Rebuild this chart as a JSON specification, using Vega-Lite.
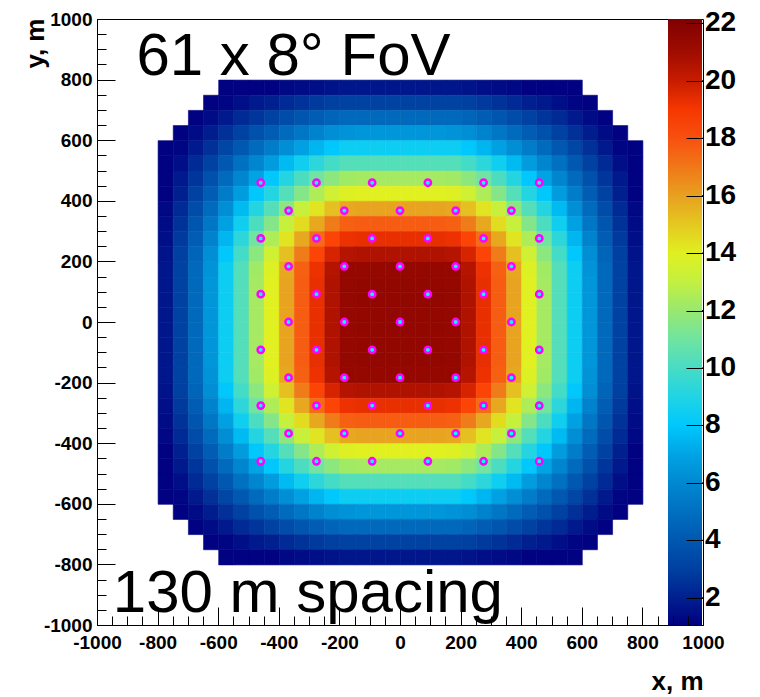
{
"$schema": "https://vega.github.io/schema/vega-lite/v6.json",
"width": 606,
"height": 606,
"autosize": {"type": "none"},
"padding": {"left": 97, "top": 19, "right": 57, "bottom": 72},
"background": "white",
"config": {"view": {"stroke": "black", "strokeWidth": 1}, "font": "Liberation Sans"},
"datasets": {
"cells": [
{"x":-575,"y":775,"v":1.1},{"x":-525,"y":775,"v":1.1},{"x":-475,"y":775,"v":1.1},{"x":-425,"y":775,"v":1.1},{"x":-375,"y":775,"v":1.3},{"x":-325,"y":775,"v":1.4},{"x":-275,"y":775,"v":1.5},{"x":-225,"y":775,"v":1.6},{"x":-175,"y":775,"v":1.7},{"x":-125,"y":775,"v":1.7},{"x":-75,"y":775,"v":1.7},{"x":-25,"y":775,"v":1.7},{"x":25,"y":775,"v":1.7},{"x":75,"y":775,"v":1.7},{"x":125,"y":775,"v":1.7},{"x":175,"y":775,"v":1.7},{"x":225,"y":775,"v":1.6},{"x":275,"y":775,"v":1.5},{"x":325,"y":775,"v":1.4},{"x":375,"y":775,"v":1.3},{"x":425,"y":775,"v":1.1},{"x":475,"y":775,"v":1.1},{"x":525,"y":775,"v":1.1},{"x":575,"y":775,"v":1.1},
{"x":-625,"y":725,"v":1.1},{"x":-575,"y":725,"v":1.2},{"x":-525,"y":725,"v":1.5},{"x":-475,"y":725,"v":1.8},{"x":-425,"y":725,"v":2.0},{"x":-375,"y":725,"v":2.3},{"x":-325,"y":725,"v":2.6},{"x":-275,"y":725,"v":2.8},{"x":-225,"y":725,"v":3.0},{"x":-175,"y":725,"v":3.1},{"x":-125,"y":725,"v":3.1},{"x":-75,"y":725,"v":3.1},{"x":-25,"y":725,"v":3.1},{"x":25,"y":725,"v":3.1},{"x":75,"y":725,"v":3.1},{"x":125,"y":725,"v":3.1},{"x":175,"y":725,"v":3.1},{"x":225,"y":725,"v":3.0},{"x":275,"y":725,"v":2.8},{"x":325,"y":725,"v":2.6},{"x":375,"y":725,"v":2.3},{"x":425,"y":725,"v":2.0},{"x":475,"y":725,"v":1.8},{"x":525,"y":725,"v":1.5},{"x":575,"y":725,"v":1.2},{"x":625,"y":725,"v":1.1},
{"x":-675,"y":675,"v":1.1},{"x":-625,"y":675,"v":1.4},{"x":-575,"y":675,"v":1.8},{"x":-525,"y":675,"v":2.3},{"x":-475,"y":675,"v":2.7},{"x":-425,"y":675,"v":3.1},{"x":-375,"y":675,"v":3.5},{"x":-325,"y":675,"v":3.9},{"x":-275,"y":675,"v":4.2},{"x":-225,"y":675,"v":4.5},{"x":-175,"y":675,"v":4.7},{"x":-125,"y":675,"v":4.7},{"x":-75,"y":675,"v":4.7},{"x":-25,"y":675,"v":4.7},{"x":25,"y":675,"v":4.7},{"x":75,"y":675,"v":4.7},{"x":125,"y":675,"v":4.7},{"x":175,"y":675,"v":4.7},{"x":225,"y":675,"v":4.5},{"x":275,"y":675,"v":4.2},{"x":325,"y":675,"v":3.9},{"x":375,"y":675,"v":3.5},{"x":425,"y":675,"v":3.1},{"x":475,"y":675,"v":2.7},{"x":525,"y":675,"v":2.3},{"x":575,"y":675,"v":1.8},{"x":625,"y":675,"v":1.4},{"x":675,"y":675,"v":1.1},
{"x":-725,"y":625,"v":1.1},{"x":-675,"y":625,"v":1.4},{"x":-625,"y":625,"v":1.9},{"x":-575,"y":625,"v":2.5},{"x":-525,"y":625,"v":3.1},{"x":-475,"y":625,"v":3.7},{"x":-425,"y":625,"v":4.2},{"x":-375,"y":625,"v":4.8},{"x":-325,"y":625,"v":5.3},{"x":-275,"y":625,"v":5.8},{"x":-225,"y":625,"v":6.2},{"x":-175,"y":625,"v":6.4},{"x":-125,"y":625,"v":6.5},{"x":-75,"y":625,"v":6.5},{"x":-25,"y":625,"v":6.5},{"x":25,"y":625,"v":6.5},{"x":75,"y":625,"v":6.5},{"x":125,"y":625,"v":6.5},{"x":175,"y":625,"v":6.4},{"x":225,"y":625,"v":6.2},{"x":275,"y":625,"v":5.8},{"x":325,"y":625,"v":5.3},{"x":375,"y":625,"v":4.8},{"x":425,"y":625,"v":4.2},{"x":475,"y":625,"v":3.7},{"x":525,"y":625,"v":3.1},{"x":575,"y":625,"v":2.5},{"x":625,"y":625,"v":1.9},{"x":675,"y":625,"v":1.4},{"x":725,"y":625,"v":1.1},
{"x":-775,"y":575,"v":1.1},{"x":-725,"y":575,"v":1.2},{"x":-675,"y":575,"v":1.8},{"x":-625,"y":575,"v":2.5},{"x":-575,"y":575,"v":3.3},{"x":-525,"y":575,"v":4.0},{"x":-475,"y":575,"v":4.8},{"x":-425,"y":575,"v":5.5},{"x":-375,"y":575,"v":6.2},{"x":-325,"y":575,"v":6.9},{"x":-275,"y":575,"v":7.5},{"x":-225,"y":575,"v":8.0},{"x":-175,"y":575,"v":8.4},{"x":-125,"y":575,"v":8.4},{"x":-75,"y":575,"v":8.4},{"x":-25,"y":575,"v":8.4},{"x":25,"y":575,"v":8.4},{"x":75,"y":575,"v":8.4},{"x":125,"y":575,"v":8.4},{"x":175,"y":575,"v":8.4},{"x":225,"y":575,"v":8.0},{"x":275,"y":575,"v":7.5},{"x":325,"y":575,"v":6.9},{"x":375,"y":575,"v":6.2},{"x":425,"y":575,"v":5.5},{"x":475,"y":575,"v":4.8},{"x":525,"y":575,"v":4.0},{"x":575,"y":575,"v":3.3},{"x":625,"y":575,"v":2.5},{"x":675,"y":575,"v":1.8},{"x":725,"y":575,"v":1.2},{"x":775,"y":575,"v":1.1},
{"x":-775,"y":525,"v":1.1},{"x":-725,"y":525,"v":1.5},{"x":-675,"y":525,"v":2.3},{"x":-625,"y":525,"v":3.1},{"x":-575,"y":525,"v":4.0},{"x":-525,"y":525,"v":5.0},{"x":-475,"y":525,"v":5.9},{"x":-425,"y":525,"v":6.7},{"x":-375,"y":525,"v":7.6},{"x":-325,"y":525,"v":8.5},{"x":-275,"y":525,"v":9.3},{"x":-225,"y":525,"v":9.9},{"x":-175,"y":525,"v":10.3},{"x":-125,"y":525,"v":10.3},{"x":-75,"y":525,"v":10.3},{"x":-25,"y":525,"v":10.3},{"x":25,"y":525,"v":10.3},{"x":75,"y":525,"v":10.3},{"x":125,"y":525,"v":10.3},{"x":175,"y":525,"v":10.3},{"x":225,"y":525,"v":9.9},{"x":275,"y":525,"v":9.3},{"x":325,"y":525,"v":8.5},{"x":375,"y":525,"v":7.6},{"x":425,"y":525,"v":6.7},{"x":475,"y":525,"v":5.9},{"x":525,"y":525,"v":5.0},{"x":575,"y":525,"v":4.0},{"x":625,"y":525,"v":3.1},{"x":675,"y":525,"v":2.3},{"x":725,"y":525,"v":1.5},{"x":775,"y":525,"v":1.1},
{"x":-775,"y":475,"v":1.1},{"x":-725,"y":475,"v":1.8},{"x":-675,"y":475,"v":2.7},{"x":-625,"y":475,"v":3.7},{"x":-575,"y":475,"v":4.8},{"x":-525,"y":475,"v":5.9},{"x":-475,"y":475,"v":7.0},{"x":-425,"y":475,"v":8.0},{"x":-375,"y":475,"v":9.1},{"x":-325,"y":475,"v":10.1},{"x":-275,"y":475,"v":11.0},{"x":-225,"y":475,"v":11.7},{"x":-175,"y":475,"v":12.2},{"x":-125,"y":475,"v":12.3},{"x":-75,"y":475,"v":12.3},{"x":-25,"y":475,"v":12.3},{"x":25,"y":475,"v":12.3},{"x":75,"y":475,"v":12.3},{"x":125,"y":475,"v":12.3},{"x":175,"y":475,"v":12.2},{"x":225,"y":475,"v":11.7},{"x":275,"y":475,"v":11.0},{"x":325,"y":475,"v":10.1},{"x":375,"y":475,"v":9.1},{"x":425,"y":475,"v":8.0},{"x":475,"y":475,"v":7.0},{"x":525,"y":475,"v":5.9},{"x":575,"y":475,"v":4.8},{"x":625,"y":475,"v":3.7},{"x":675,"y":475,"v":2.7},{"x":725,"y":475,"v":1.8},{"x":775,"y":475,"v":1.1},
{"x":-775,"y":425,"v":1.1},{"x":-725,"y":425,"v":2.0},{"x":-675,"y":425,"v":3.1},{"x":-625,"y":425,"v":4.2},{"x":-575,"y":425,"v":5.5},{"x":-525,"y":425,"v":6.7},{"x":-475,"y":425,"v":8.0},{"x":-425,"y":425,"v":9.1},{"x":-375,"y":425,"v":10.3},{"x":-325,"y":425,"v":11.5},{"x":-275,"y":425,"v":12.5},{"x":-225,"y":425,"v":13.4},{"x":-175,"y":425,"v":13.9},{"x":-125,"y":425,"v":14.0},{"x":-75,"y":425,"v":14.0},{"x":-25,"y":425,"v":14.0},{"x":25,"y":425,"v":14.0},{"x":75,"y":425,"v":14.0},{"x":125,"y":425,"v":14.0},{"x":175,"y":425,"v":13.9},{"x":225,"y":425,"v":13.4},{"x":275,"y":425,"v":12.5},{"x":325,"y":425,"v":11.5},{"x":375,"y":425,"v":10.3},{"x":425,"y":425,"v":9.1},{"x":475,"y":425,"v":8.0},{"x":525,"y":425,"v":6.7},{"x":575,"y":425,"v":5.5},{"x":625,"y":425,"v":4.2},{"x":675,"y":425,"v":3.1},{"x":725,"y":425,"v":2.0},{"x":775,"y":425,"v":1.1},
{"x":-775,"y":375,"v":1.3},{"x":-725,"y":375,"v":2.3},{"x":-675,"y":375,"v":3.5},{"x":-625,"y":375,"v":4.8},{"x":-575,"y":375,"v":6.2},{"x":-525,"y":375,"v":7.6},{"x":-475,"y":375,"v":9.1},{"x":-425,"y":375,"v":10.3},{"x":-375,"y":375,"v":11.7},{"x":-325,"y":375,"v":13.1},{"x":-275,"y":375,"v":14.3},{"x":-225,"y":375,"v":15.2},{"x":-175,"y":375,"v":15.8},{"x":-125,"y":375,"v":15.9},{"x":-75,"y":375,"v":15.9},{"x":-25,"y":375,"v":15.9},{"x":25,"y":375,"v":15.9},{"x":75,"y":375,"v":15.9},{"x":125,"y":375,"v":15.9},{"x":175,"y":375,"v":15.8},{"x":225,"y":375,"v":15.2},{"x":275,"y":375,"v":14.3},{"x":325,"y":375,"v":13.1},{"x":375,"y":375,"v":11.7},{"x":425,"y":375,"v":10.3},{"x":475,"y":375,"v":9.1},{"x":525,"y":375,"v":7.6},{"x":575,"y":375,"v":6.2},{"x":625,"y":375,"v":4.8},{"x":675,"y":375,"v":3.5},{"x":725,"y":375,"v":2.3},{"x":775,"y":375,"v":1.3},
{"x":-775,"y":325,"v":1.4},{"x":-725,"y":325,"v":2.6},{"x":-675,"y":325,"v":3.9},{"x":-625,"y":325,"v":5.3},{"x":-575,"y":325,"v":6.9},{"x":-525,"y":325,"v":8.5},{"x":-475,"y":325,"v":10.1},{"x":-425,"y":325,"v":11.5},{"x":-375,"y":325,"v":13.1},{"x":-325,"y":325,"v":14.5},{"x":-275,"y":325,"v":15.8},{"x":-225,"y":325,"v":16.9},{"x":-175,"y":325,"v":17.6},{"x":-125,"y":325,"v":17.7},{"x":-75,"y":325,"v":17.7},{"x":-25,"y":325,"v":17.7},{"x":25,"y":325,"v":17.7},{"x":75,"y":325,"v":17.7},{"x":125,"y":325,"v":17.7},{"x":175,"y":325,"v":17.6},{"x":225,"y":325,"v":16.9},{"x":275,"y":325,"v":15.8},{"x":325,"y":325,"v":14.5},{"x":375,"y":325,"v":13.1},{"x":425,"y":325,"v":11.5},{"x":475,"y":325,"v":10.1},{"x":525,"y":325,"v":8.5},{"x":575,"y":325,"v":6.9},{"x":625,"y":325,"v":5.3},{"x":675,"y":325,"v":3.9},{"x":725,"y":325,"v":2.6},{"x":775,"y":325,"v":1.4},
{"x":-775,"y":275,"v":1.5},{"x":-725,"y":275,"v":2.8},{"x":-675,"y":275,"v":4.2},{"x":-625,"y":275,"v":5.8},{"x":-575,"y":275,"v":7.5},{"x":-525,"y":275,"v":9.3},{"x":-475,"y":275,"v":11.0},{"x":-425,"y":275,"v":12.5},{"x":-375,"y":275,"v":14.3},{"x":-325,"y":275,"v":15.8},{"x":-275,"y":275,"v":17.3},{"x":-225,"y":275,"v":18.5},{"x":-175,"y":275,"v":19.2},{"x":-125,"y":275,"v":19.3},{"x":-75,"y":275,"v":19.3},{"x":-25,"y":275,"v":19.3},{"x":25,"y":275,"v":19.3},{"x":75,"y":275,"v":19.3},{"x":125,"y":275,"v":19.3},{"x":175,"y":275,"v":19.2},{"x":225,"y":275,"v":18.5},{"x":275,"y":275,"v":17.3},{"x":325,"y":275,"v":15.8},{"x":375,"y":275,"v":14.3},{"x":425,"y":275,"v":12.5},{"x":475,"y":275,"v":11.0},{"x":525,"y":275,"v":9.3},{"x":575,"y":275,"v":7.5},{"x":625,"y":275,"v":5.8},{"x":675,"y":275,"v":4.2},{"x":725,"y":275,"v":2.8},{"x":775,"y":275,"v":1.5},
{"x":-775,"y":225,"v":1.6},{"x":-725,"y":225,"v":3.0},{"x":-675,"y":225,"v":4.5},{"x":-625,"y":225,"v":6.2},{"x":-575,"y":225,"v":8.0},{"x":-525,"y":225,"v":9.9},{"x":-475,"y":225,"v":11.7},{"x":-425,"y":225,"v":13.4},{"x":-375,"y":225,"v":15.2},{"x":-325,"y":225,"v":16.9},{"x":-275,"y":225,"v":18.5},{"x":-225,"y":225,"v":19.7},{"x":-175,"y":225,"v":20.5},{"x":-125,"y":225,"v":20.6},{"x":-75,"y":225,"v":20.6},{"x":-25,"y":225,"v":20.6},{"x":25,"y":225,"v":20.6},{"x":75,"y":225,"v":20.6},{"x":125,"y":225,"v":20.6},{"x":175,"y":225,"v":20.5},{"x":225,"y":225,"v":19.7},{"x":275,"y":225,"v":18.5},{"x":325,"y":225,"v":16.9},{"x":375,"y":225,"v":15.2},{"x":425,"y":225,"v":13.4},{"x":475,"y":225,"v":11.7},{"x":525,"y":225,"v":9.9},{"x":575,"y":225,"v":8.0},{"x":625,"y":225,"v":6.2},{"x":675,"y":225,"v":4.5},{"x":725,"y":225,"v":3.0},{"x":775,"y":225,"v":1.6},
{"x":-775,"y":175,"v":1.7},{"x":-725,"y":175,"v":3.1},{"x":-675,"y":175,"v":4.7},{"x":-625,"y":175,"v":6.4},{"x":-575,"y":175,"v":8.4},{"x":-525,"y":175,"v":10.3},{"x":-475,"y":175,"v":12.2},{"x":-425,"y":175,"v":13.9},{"x":-375,"y":175,"v":15.8},{"x":-325,"y":175,"v":17.6},{"x":-275,"y":175,"v":19.2},{"x":-225,"y":175,"v":20.5},{"x":-175,"y":175,"v":21.4},{"x":-125,"y":175,"v":21.4},{"x":-75,"y":175,"v":21.4},{"x":-25,"y":175,"v":21.4},{"x":25,"y":175,"v":21.4},{"x":75,"y":175,"v":21.4},{"x":125,"y":175,"v":21.4},{"x":175,"y":175,"v":21.4},{"x":225,"y":175,"v":20.5},{"x":275,"y":175,"v":19.2},{"x":325,"y":175,"v":17.6},{"x":375,"y":175,"v":15.8},{"x":425,"y":175,"v":13.9},{"x":475,"y":175,"v":12.2},{"x":525,"y":175,"v":10.3},{"x":575,"y":175,"v":8.4},{"x":625,"y":175,"v":6.4},{"x":675,"y":175,"v":4.7},{"x":725,"y":175,"v":3.1},{"x":775,"y":175,"v":1.7},
{"x":-775,"y":125,"v":1.7},{"x":-725,"y":125,"v":3.1},{"x":-675,"y":125,"v":4.7},{"x":-625,"y":125,"v":6.5},{"x":-575,"y":125,"v":8.4},{"x":-525,"y":125,"v":10.3},{"x":-475,"y":125,"v":12.3},{"x":-425,"y":125,"v":14.0},{"x":-375,"y":125,"v":15.9},{"x":-325,"y":125,"v":17.7},{"x":-275,"y":125,"v":19.3},{"x":-225,"y":125,"v":20.6},{"x":-175,"y":125,"v":21.4},{"x":-125,"y":125,"v":21.5},{"x":-75,"y":125,"v":21.5},{"x":-25,"y":125,"v":21.5},{"x":25,"y":125,"v":21.5},{"x":75,"y":125,"v":21.5},{"x":125,"y":125,"v":21.5},{"x":175,"y":125,"v":21.4},{"x":225,"y":125,"v":20.6},{"x":275,"y":125,"v":19.3},{"x":325,"y":125,"v":17.7},{"x":375,"y":125,"v":15.9},{"x":425,"y":125,"v":14.0},{"x":475,"y":125,"v":12.3},{"x":525,"y":125,"v":10.3},{"x":575,"y":125,"v":8.4},{"x":625,"y":125,"v":6.5},{"x":675,"y":125,"v":4.7},{"x":725,"y":125,"v":3.1},{"x":775,"y":125,"v":1.7},
{"x":-775,"y":75,"v":1.7},{"x":-725,"y":75,"v":3.1},{"x":-675,"y":75,"v":4.7},{"x":-625,"y":75,"v":6.5},{"x":-575,"y":75,"v":8.4},{"x":-525,"y":75,"v":10.3},{"x":-475,"y":75,"v":12.3},{"x":-425,"y":75,"v":14.0},{"x":-375,"y":75,"v":15.9},{"x":-325,"y":75,"v":17.7},{"x":-275,"y":75,"v":19.3},{"x":-225,"y":75,"v":20.6},{"x":-175,"y":75,"v":21.4},{"x":-125,"y":75,"v":21.5},{"x":-75,"y":75,"v":21.5},{"x":-25,"y":75,"v":21.5},{"x":25,"y":75,"v":21.5},{"x":75,"y":75,"v":21.5},{"x":125,"y":75,"v":21.5},{"x":175,"y":75,"v":21.4},{"x":225,"y":75,"v":20.6},{"x":275,"y":75,"v":19.3},{"x":325,"y":75,"v":17.7},{"x":375,"y":75,"v":15.9},{"x":425,"y":75,"v":14.0},{"x":475,"y":75,"v":12.3},{"x":525,"y":75,"v":10.3},{"x":575,"y":75,"v":8.4},{"x":625,"y":75,"v":6.5},{"x":675,"y":75,"v":4.7},{"x":725,"y":75,"v":3.1},{"x":775,"y":75,"v":1.7},
{"x":-775,"y":25,"v":1.7},{"x":-725,"y":25,"v":3.1},{"x":-675,"y":25,"v":4.7},{"x":-625,"y":25,"v":6.5},{"x":-575,"y":25,"v":8.4},{"x":-525,"y":25,"v":10.3},{"x":-475,"y":25,"v":12.3},{"x":-425,"y":25,"v":14.0},{"x":-375,"y":25,"v":15.9},{"x":-325,"y":25,"v":17.7},{"x":-275,"y":25,"v":19.3},{"x":-225,"y":25,"v":20.6},{"x":-175,"y":25,"v":21.4},{"x":-125,"y":25,"v":21.5},{"x":-75,"y":25,"v":21.5},{"x":-25,"y":25,"v":21.5},{"x":25,"y":25,"v":21.5},{"x":75,"y":25,"v":21.5},{"x":125,"y":25,"v":21.5},{"x":175,"y":25,"v":21.4},{"x":225,"y":25,"v":20.6},{"x":275,"y":25,"v":19.3},{"x":325,"y":25,"v":17.7},{"x":375,"y":25,"v":15.9},{"x":425,"y":25,"v":14.0},{"x":475,"y":25,"v":12.3},{"x":525,"y":25,"v":10.3},{"x":575,"y":25,"v":8.4},{"x":625,"y":25,"v":6.5},{"x":675,"y":25,"v":4.7},{"x":725,"y":25,"v":3.1},{"x":775,"y":25,"v":1.7},
{"x":-775,"y":-25,"v":1.7},{"x":-725,"y":-25,"v":3.1},{"x":-675,"y":-25,"v":4.7},{"x":-625,"y":-25,"v":6.5},{"x":-575,"y":-25,"v":8.4},{"x":-525,"y":-25,"v":10.3},{"x":-475,"y":-25,"v":12.3},{"x":-425,"y":-25,"v":14.0},{"x":-375,"y":-25,"v":15.9},{"x":-325,"y":-25,"v":17.7},{"x":-275,"y":-25,"v":19.3},{"x":-225,"y":-25,"v":20.6},{"x":-175,"y":-25,"v":21.4},{"x":-125,"y":-25,"v":21.5},{"x":-75,"y":-25,"v":21.5},{"x":-25,"y":-25,"v":21.5},{"x":25,"y":-25,"v":21.5},{"x":75,"y":-25,"v":21.5},{"x":125,"y":-25,"v":21.5},{"x":175,"y":-25,"v":21.4},{"x":225,"y":-25,"v":20.6},{"x":275,"y":-25,"v":19.3},{"x":325,"y":-25,"v":17.7},{"x":375,"y":-25,"v":15.9},{"x":425,"y":-25,"v":14.0},{"x":475,"y":-25,"v":12.3},{"x":525,"y":-25,"v":10.3},{"x":575,"y":-25,"v":8.4},{"x":625,"y":-25,"v":6.5},{"x":675,"y":-25,"v":4.7},{"x":725,"y":-25,"v":3.1},{"x":775,"y":-25,"v":1.7},
{"x":-775,"y":-75,"v":1.7},{"x":-725,"y":-75,"v":3.1},{"x":-675,"y":-75,"v":4.7},{"x":-625,"y":-75,"v":6.5},{"x":-575,"y":-75,"v":8.4},{"x":-525,"y":-75,"v":10.3},{"x":-475,"y":-75,"v":12.3},{"x":-425,"y":-75,"v":14.0},{"x":-375,"y":-75,"v":15.9},{"x":-325,"y":-75,"v":17.7},{"x":-275,"y":-75,"v":19.3},{"x":-225,"y":-75,"v":20.6},{"x":-175,"y":-75,"v":21.4},{"x":-125,"y":-75,"v":21.5},{"x":-75,"y":-75,"v":21.5},{"x":-25,"y":-75,"v":21.5},{"x":25,"y":-75,"v":21.5},{"x":75,"y":-75,"v":21.5},{"x":125,"y":-75,"v":21.5},{"x":175,"y":-75,"v":21.4},{"x":225,"y":-75,"v":20.6},{"x":275,"y":-75,"v":19.3},{"x":325,"y":-75,"v":17.7},{"x":375,"y":-75,"v":15.9},{"x":425,"y":-75,"v":14.0},{"x":475,"y":-75,"v":12.3},{"x":525,"y":-75,"v":10.3},{"x":575,"y":-75,"v":8.4},{"x":625,"y":-75,"v":6.5},{"x":675,"y":-75,"v":4.7},{"x":725,"y":-75,"v":3.1},{"x":775,"y":-75,"v":1.7},
{"x":-775,"y":-125,"v":1.7},{"x":-725,"y":-125,"v":3.1},{"x":-675,"y":-125,"v":4.7},{"x":-625,"y":-125,"v":6.5},{"x":-575,"y":-125,"v":8.4},{"x":-525,"y":-125,"v":10.3},{"x":-475,"y":-125,"v":12.3},{"x":-425,"y":-125,"v":14.0},{"x":-375,"y":-125,"v":15.9},{"x":-325,"y":-125,"v":17.7},{"x":-275,"y":-125,"v":19.3},{"x":-225,"y":-125,"v":20.6},{"x":-175,"y":-125,"v":21.4},{"x":-125,"y":-125,"v":21.5},{"x":-75,"y":-125,"v":21.5},{"x":-25,"y":-125,"v":21.5},{"x":25,"y":-125,"v":21.5},{"x":75,"y":-125,"v":21.5},{"x":125,"y":-125,"v":21.5},{"x":175,"y":-125,"v":21.4},{"x":225,"y":-125,"v":20.6},{"x":275,"y":-125,"v":19.3},{"x":325,"y":-125,"v":17.7},{"x":375,"y":-125,"v":15.9},{"x":425,"y":-125,"v":14.0},{"x":475,"y":-125,"v":12.3},{"x":525,"y":-125,"v":10.3},{"x":575,"y":-125,"v":8.4},{"x":625,"y":-125,"v":6.5},{"x":675,"y":-125,"v":4.7},{"x":725,"y":-125,"v":3.1},{"x":775,"y":-125,"v":1.7},
{"x":-775,"y":-175,"v":1.7},{"x":-725,"y":-175,"v":3.1},{"x":-675,"y":-175,"v":4.7},{"x":-625,"y":-175,"v":6.4},{"x":-575,"y":-175,"v":8.4},{"x":-525,"y":-175,"v":10.3},{"x":-475,"y":-175,"v":12.2},{"x":-425,"y":-175,"v":13.9},{"x":-375,"y":-175,"v":15.8},{"x":-325,"y":-175,"v":17.6},{"x":-275,"y":-175,"v":19.2},{"x":-225,"y":-175,"v":20.5},{"x":-175,"y":-175,"v":21.4},{"x":-125,"y":-175,"v":21.4},{"x":-75,"y":-175,"v":21.4},{"x":-25,"y":-175,"v":21.4},{"x":25,"y":-175,"v":21.4},{"x":75,"y":-175,"v":21.4},{"x":125,"y":-175,"v":21.4},{"x":175,"y":-175,"v":21.4},{"x":225,"y":-175,"v":20.5},{"x":275,"y":-175,"v":19.2},{"x":325,"y":-175,"v":17.6},{"x":375,"y":-175,"v":15.8},{"x":425,"y":-175,"v":13.9},{"x":475,"y":-175,"v":12.2},{"x":525,"y":-175,"v":10.3},{"x":575,"y":-175,"v":8.4},{"x":625,"y":-175,"v":6.4},{"x":675,"y":-175,"v":4.7},{"x":725,"y":-175,"v":3.1},{"x":775,"y":-175,"v":1.7},
{"x":-775,"y":-225,"v":1.6},{"x":-725,"y":-225,"v":3.0},{"x":-675,"y":-225,"v":4.5},{"x":-625,"y":-225,"v":6.2},{"x":-575,"y":-225,"v":8.0},{"x":-525,"y":-225,"v":9.9},{"x":-475,"y":-225,"v":11.7},{"x":-425,"y":-225,"v":13.4},{"x":-375,"y":-225,"v":15.2},{"x":-325,"y":-225,"v":16.9},{"x":-275,"y":-225,"v":18.5},{"x":-225,"y":-225,"v":19.7},{"x":-175,"y":-225,"v":20.5},{"x":-125,"y":-225,"v":20.6},{"x":-75,"y":-225,"v":20.6},{"x":-25,"y":-225,"v":20.6},{"x":25,"y":-225,"v":20.6},{"x":75,"y":-225,"v":20.6},{"x":125,"y":-225,"v":20.6},{"x":175,"y":-225,"v":20.5},{"x":225,"y":-225,"v":19.7},{"x":275,"y":-225,"v":18.5},{"x":325,"y":-225,"v":16.9},{"x":375,"y":-225,"v":15.2},{"x":425,"y":-225,"v":13.4},{"x":475,"y":-225,"v":11.7},{"x":525,"y":-225,"v":9.9},{"x":575,"y":-225,"v":8.0},{"x":625,"y":-225,"v":6.2},{"x":675,"y":-225,"v":4.5},{"x":725,"y":-225,"v":3.0},{"x":775,"y":-225,"v":1.6},
{"x":-775,"y":-275,"v":1.5},{"x":-725,"y":-275,"v":2.8},{"x":-675,"y":-275,"v":4.2},{"x":-625,"y":-275,"v":5.8},{"x":-575,"y":-275,"v":7.5},{"x":-525,"y":-275,"v":9.3},{"x":-475,"y":-275,"v":11.0},{"x":-425,"y":-275,"v":12.5},{"x":-375,"y":-275,"v":14.3},{"x":-325,"y":-275,"v":15.8},{"x":-275,"y":-275,"v":17.3},{"x":-225,"y":-275,"v":18.5},{"x":-175,"y":-275,"v":19.2},{"x":-125,"y":-275,"v":19.3},{"x":-75,"y":-275,"v":19.3},{"x":-25,"y":-275,"v":19.3},{"x":25,"y":-275,"v":19.3},{"x":75,"y":-275,"v":19.3},{"x":125,"y":-275,"v":19.3},{"x":175,"y":-275,"v":19.2},{"x":225,"y":-275,"v":18.5},{"x":275,"y":-275,"v":17.3},{"x":325,"y":-275,"v":15.8},{"x":375,"y":-275,"v":14.3},{"x":425,"y":-275,"v":12.5},{"x":475,"y":-275,"v":11.0},{"x":525,"y":-275,"v":9.3},{"x":575,"y":-275,"v":7.5},{"x":625,"y":-275,"v":5.8},{"x":675,"y":-275,"v":4.2},{"x":725,"y":-275,"v":2.8},{"x":775,"y":-275,"v":1.5},
{"x":-775,"y":-325,"v":1.4},{"x":-725,"y":-325,"v":2.6},{"x":-675,"y":-325,"v":3.9},{"x":-625,"y":-325,"v":5.3},{"x":-575,"y":-325,"v":6.9},{"x":-525,"y":-325,"v":8.5},{"x":-475,"y":-325,"v":10.1},{"x":-425,"y":-325,"v":11.5},{"x":-375,"y":-325,"v":13.1},{"x":-325,"y":-325,"v":14.5},{"x":-275,"y":-325,"v":15.8},{"x":-225,"y":-325,"v":16.9},{"x":-175,"y":-325,"v":17.6},{"x":-125,"y":-325,"v":17.7},{"x":-75,"y":-325,"v":17.7},{"x":-25,"y":-325,"v":17.7},{"x":25,"y":-325,"v":17.7},{"x":75,"y":-325,"v":17.7},{"x":125,"y":-325,"v":17.7},{"x":175,"y":-325,"v":17.6},{"x":225,"y":-325,"v":16.9},{"x":275,"y":-325,"v":15.8},{"x":325,"y":-325,"v":14.5},{"x":375,"y":-325,"v":13.1},{"x":425,"y":-325,"v":11.5},{"x":475,"y":-325,"v":10.1},{"x":525,"y":-325,"v":8.5},{"x":575,"y":-325,"v":6.9},{"x":625,"y":-325,"v":5.3},{"x":675,"y":-325,"v":3.9},{"x":725,"y":-325,"v":2.6},{"x":775,"y":-325,"v":1.4},
{"x":-775,"y":-375,"v":1.3},{"x":-725,"y":-375,"v":2.3},{"x":-675,"y":-375,"v":3.5},{"x":-625,"y":-375,"v":4.8},{"x":-575,"y":-375,"v":6.2},{"x":-525,"y":-375,"v":7.6},{"x":-475,"y":-375,"v":9.1},{"x":-425,"y":-375,"v":10.3},{"x":-375,"y":-375,"v":11.7},{"x":-325,"y":-375,"v":13.1},{"x":-275,"y":-375,"v":14.3},{"x":-225,"y":-375,"v":15.2},{"x":-175,"y":-375,"v":15.8},{"x":-125,"y":-375,"v":15.9},{"x":-75,"y":-375,"v":15.9},{"x":-25,"y":-375,"v":15.9},{"x":25,"y":-375,"v":15.9},{"x":75,"y":-375,"v":15.9},{"x":125,"y":-375,"v":15.9},{"x":175,"y":-375,"v":15.8},{"x":225,"y":-375,"v":15.2},{"x":275,"y":-375,"v":14.3},{"x":325,"y":-375,"v":13.1},{"x":375,"y":-375,"v":11.7},{"x":425,"y":-375,"v":10.3},{"x":475,"y":-375,"v":9.1},{"x":525,"y":-375,"v":7.6},{"x":575,"y":-375,"v":6.2},{"x":625,"y":-375,"v":4.8},{"x":675,"y":-375,"v":3.5},{"x":725,"y":-375,"v":2.3},{"x":775,"y":-375,"v":1.3},
{"x":-775,"y":-425,"v":1.1},{"x":-725,"y":-425,"v":2.0},{"x":-675,"y":-425,"v":3.1},{"x":-625,"y":-425,"v":4.2},{"x":-575,"y":-425,"v":5.5},{"x":-525,"y":-425,"v":6.7},{"x":-475,"y":-425,"v":8.0},{"x":-425,"y":-425,"v":9.1},{"x":-375,"y":-425,"v":10.3},{"x":-325,"y":-425,"v":11.5},{"x":-275,"y":-425,"v":12.5},{"x":-225,"y":-425,"v":13.4},{"x":-175,"y":-425,"v":13.9},{"x":-125,"y":-425,"v":14.0},{"x":-75,"y":-425,"v":14.0},{"x":-25,"y":-425,"v":14.0},{"x":25,"y":-425,"v":14.0},{"x":75,"y":-425,"v":14.0},{"x":125,"y":-425,"v":14.0},{"x":175,"y":-425,"v":13.9},{"x":225,"y":-425,"v":13.4},{"x":275,"y":-425,"v":12.5},{"x":325,"y":-425,"v":11.5},{"x":375,"y":-425,"v":10.3},{"x":425,"y":-425,"v":9.1},{"x":475,"y":-425,"v":8.0},{"x":525,"y":-425,"v":6.7},{"x":575,"y":-425,"v":5.5},{"x":625,"y":-425,"v":4.2},{"x":675,"y":-425,"v":3.1},{"x":725,"y":-425,"v":2.0},{"x":775,"y":-425,"v":1.1},
{"x":-775,"y":-475,"v":1.1},{"x":-725,"y":-475,"v":1.8},{"x":-675,"y":-475,"v":2.7},{"x":-625,"y":-475,"v":3.7},{"x":-575,"y":-475,"v":4.8},{"x":-525,"y":-475,"v":5.9},{"x":-475,"y":-475,"v":7.0},{"x":-425,"y":-475,"v":8.0},{"x":-375,"y":-475,"v":9.1},{"x":-325,"y":-475,"v":10.1},{"x":-275,"y":-475,"v":11.0},{"x":-225,"y":-475,"v":11.7},{"x":-175,"y":-475,"v":12.2},{"x":-125,"y":-475,"v":12.3},{"x":-75,"y":-475,"v":12.3},{"x":-25,"y":-475,"v":12.3},{"x":25,"y":-475,"v":12.3},{"x":75,"y":-475,"v":12.3},{"x":125,"y":-475,"v":12.3},{"x":175,"y":-475,"v":12.2},{"x":225,"y":-475,"v":11.7},{"x":275,"y":-475,"v":11.0},{"x":325,"y":-475,"v":10.1},{"x":375,"y":-475,"v":9.1},{"x":425,"y":-475,"v":8.0},{"x":475,"y":-475,"v":7.0},{"x":525,"y":-475,"v":5.9},{"x":575,"y":-475,"v":4.8},{"x":625,"y":-475,"v":3.7},{"x":675,"y":-475,"v":2.7},{"x":725,"y":-475,"v":1.8},{"x":775,"y":-475,"v":1.1},
{"x":-775,"y":-525,"v":1.1},{"x":-725,"y":-525,"v":1.5},{"x":-675,"y":-525,"v":2.3},{"x":-625,"y":-525,"v":3.1},{"x":-575,"y":-525,"v":4.0},{"x":-525,"y":-525,"v":5.0},{"x":-475,"y":-525,"v":5.9},{"x":-425,"y":-525,"v":6.7},{"x":-375,"y":-525,"v":7.6},{"x":-325,"y":-525,"v":8.5},{"x":-275,"y":-525,"v":9.3},{"x":-225,"y":-525,"v":9.9},{"x":-175,"y":-525,"v":10.3},{"x":-125,"y":-525,"v":10.3},{"x":-75,"y":-525,"v":10.3},{"x":-25,"y":-525,"v":10.3},{"x":25,"y":-525,"v":10.3},{"x":75,"y":-525,"v":10.3},{"x":125,"y":-525,"v":10.3},{"x":175,"y":-525,"v":10.3},{"x":225,"y":-525,"v":9.9},{"x":275,"y":-525,"v":9.3},{"x":325,"y":-525,"v":8.5},{"x":375,"y":-525,"v":7.6},{"x":425,"y":-525,"v":6.7},{"x":475,"y":-525,"v":5.9},{"x":525,"y":-525,"v":5.0},{"x":575,"y":-525,"v":4.0},{"x":625,"y":-525,"v":3.1},{"x":675,"y":-525,"v":2.3},{"x":725,"y":-525,"v":1.5},{"x":775,"y":-525,"v":1.1},
{"x":-775,"y":-575,"v":1.1},{"x":-725,"y":-575,"v":1.2},{"x":-675,"y":-575,"v":1.8},{"x":-625,"y":-575,"v":2.5},{"x":-575,"y":-575,"v":3.3},{"x":-525,"y":-575,"v":4.0},{"x":-475,"y":-575,"v":4.8},{"x":-425,"y":-575,"v":5.5},{"x":-375,"y":-575,"v":6.2},{"x":-325,"y":-575,"v":6.9},{"x":-275,"y":-575,"v":7.5},{"x":-225,"y":-575,"v":8.0},{"x":-175,"y":-575,"v":8.4},{"x":-125,"y":-575,"v":8.4},{"x":-75,"y":-575,"v":8.4},{"x":-25,"y":-575,"v":8.4},{"x":25,"y":-575,"v":8.4},{"x":75,"y":-575,"v":8.4},{"x":125,"y":-575,"v":8.4},{"x":175,"y":-575,"v":8.4},{"x":225,"y":-575,"v":8.0},{"x":275,"y":-575,"v":7.5},{"x":325,"y":-575,"v":6.9},{"x":375,"y":-575,"v":6.2},{"x":425,"y":-575,"v":5.5},{"x":475,"y":-575,"v":4.8},{"x":525,"y":-575,"v":4.0},{"x":575,"y":-575,"v":3.3},{"x":625,"y":-575,"v":2.5},{"x":675,"y":-575,"v":1.8},{"x":725,"y":-575,"v":1.2},{"x":775,"y":-575,"v":1.1},
{"x":-725,"y":-625,"v":1.1},{"x":-675,"y":-625,"v":1.4},{"x":-625,"y":-625,"v":1.9},{"x":-575,"y":-625,"v":2.5},{"x":-525,"y":-625,"v":3.1},{"x":-475,"y":-625,"v":3.7},{"x":-425,"y":-625,"v":4.2},{"x":-375,"y":-625,"v":4.8},{"x":-325,"y":-625,"v":5.3},{"x":-275,"y":-625,"v":5.8},{"x":-225,"y":-625,"v":6.2},{"x":-175,"y":-625,"v":6.4},{"x":-125,"y":-625,"v":6.5},{"x":-75,"y":-625,"v":6.5},{"x":-25,"y":-625,"v":6.5},{"x":25,"y":-625,"v":6.5},{"x":75,"y":-625,"v":6.5},{"x":125,"y":-625,"v":6.5},{"x":175,"y":-625,"v":6.4},{"x":225,"y":-625,"v":6.2},{"x":275,"y":-625,"v":5.8},{"x":325,"y":-625,"v":5.3},{"x":375,"y":-625,"v":4.8},{"x":425,"y":-625,"v":4.2},{"x":475,"y":-625,"v":3.7},{"x":525,"y":-625,"v":3.1},{"x":575,"y":-625,"v":2.5},{"x":625,"y":-625,"v":1.9},{"x":675,"y":-625,"v":1.4},{"x":725,"y":-625,"v":1.1},
{"x":-675,"y":-675,"v":1.1},{"x":-625,"y":-675,"v":1.4},{"x":-575,"y":-675,"v":1.8},{"x":-525,"y":-675,"v":2.3},{"x":-475,"y":-675,"v":2.7},{"x":-425,"y":-675,"v":3.1},{"x":-375,"y":-675,"v":3.5},{"x":-325,"y":-675,"v":3.9},{"x":-275,"y":-675,"v":4.2},{"x":-225,"y":-675,"v":4.5},{"x":-175,"y":-675,"v":4.7},{"x":-125,"y":-675,"v":4.7},{"x":-75,"y":-675,"v":4.7},{"x":-25,"y":-675,"v":4.7},{"x":25,"y":-675,"v":4.7},{"x":75,"y":-675,"v":4.7},{"x":125,"y":-675,"v":4.7},{"x":175,"y":-675,"v":4.7},{"x":225,"y":-675,"v":4.5},{"x":275,"y":-675,"v":4.2},{"x":325,"y":-675,"v":3.9},{"x":375,"y":-675,"v":3.5},{"x":425,"y":-675,"v":3.1},{"x":475,"y":-675,"v":2.7},{"x":525,"y":-675,"v":2.3},{"x":575,"y":-675,"v":1.8},{"x":625,"y":-675,"v":1.4},{"x":675,"y":-675,"v":1.1},
{"x":-625,"y":-725,"v":1.1},{"x":-575,"y":-725,"v":1.2},{"x":-525,"y":-725,"v":1.5},{"x":-475,"y":-725,"v":1.8},{"x":-425,"y":-725,"v":2.0},{"x":-375,"y":-725,"v":2.3},{"x":-325,"y":-725,"v":2.6},{"x":-275,"y":-725,"v":2.8},{"x":-225,"y":-725,"v":3.0},{"x":-175,"y":-725,"v":3.1},{"x":-125,"y":-725,"v":3.1},{"x":-75,"y":-725,"v":3.1},{"x":-25,"y":-725,"v":3.1},{"x":25,"y":-725,"v":3.1},{"x":75,"y":-725,"v":3.1},{"x":125,"y":-725,"v":3.1},{"x":175,"y":-725,"v":3.1},{"x":225,"y":-725,"v":3.0},{"x":275,"y":-725,"v":2.8},{"x":325,"y":-725,"v":2.6},{"x":375,"y":-725,"v":2.3},{"x":425,"y":-725,"v":2.0},{"x":475,"y":-725,"v":1.8},{"x":525,"y":-725,"v":1.5},{"x":575,"y":-725,"v":1.2},{"x":625,"y":-725,"v":1.1},
{"x":-575,"y":-775,"v":1.1},{"x":-525,"y":-775,"v":1.1},{"x":-475,"y":-775,"v":1.1},{"x":-425,"y":-775,"v":1.1},{"x":-375,"y":-775,"v":1.3},{"x":-325,"y":-775,"v":1.4},{"x":-275,"y":-775,"v":1.5},{"x":-225,"y":-775,"v":1.6},{"x":-175,"y":-775,"v":1.7},{"x":-125,"y":-775,"v":1.7},{"x":-75,"y":-775,"v":1.7},{"x":-25,"y":-775,"v":1.7},{"x":25,"y":-775,"v":1.7},{"x":75,"y":-775,"v":1.7},{"x":125,"y":-775,"v":1.7},{"x":175,"y":-775,"v":1.7},{"x":225,"y":-775,"v":1.6},{"x":275,"y":-775,"v":1.5},{"x":325,"y":-775,"v":1.4},{"x":375,"y":-775,"v":1.3},{"x":425,"y":-775,"v":1.1},{"x":475,"y":-775,"v":1.1},{"x":525,"y":-775,"v":1.1},{"x":575,"y":-775,"v":1.1}
],
"tels": [
{"x":-459.6,"y":459.6},{"x":-275.8,"y":459.6},{"x":-91.9,"y":459.6},{"x":91.9,"y":459.6},{"x":275.8,"y":459.6},{"x":459.6,"y":459.6},
{"x":-367.7,"y":367.7},{"x":-183.8,"y":367.7},{"x":0,"y":367.7},{"x":183.8,"y":367.7},{"x":367.7,"y":367.7},
{"x":-459.6,"y":275.8},{"x":-275.8,"y":275.8},{"x":-91.9,"y":275.8},{"x":91.9,"y":275.8},{"x":275.8,"y":275.8},{"x":459.6,"y":275.8},
{"x":-367.7,"y":183.8},{"x":-183.8,"y":183.8},{"x":0,"y":183.8},{"x":183.8,"y":183.8},{"x":367.7,"y":183.8},
{"x":-459.6,"y":91.9},{"x":-275.8,"y":91.9},{"x":-91.9,"y":91.9},{"x":91.9,"y":91.9},{"x":275.8,"y":91.9},{"x":459.6,"y":91.9},
{"x":-367.7,"y":0},{"x":-183.8,"y":0},{"x":0,"y":0},{"x":183.8,"y":0},{"x":367.7,"y":0},
{"x":-459.6,"y":-91.9},{"x":-275.8,"y":-91.9},{"x":-91.9,"y":-91.9},{"x":91.9,"y":-91.9},{"x":275.8,"y":-91.9},{"x":459.6,"y":-91.9},
{"x":-367.7,"y":-183.8},{"x":-183.8,"y":-183.8},{"x":0,"y":-183.8},{"x":183.8,"y":-183.8},{"x":367.7,"y":-183.8},
{"x":-459.6,"y":-275.8},{"x":-275.8,"y":-275.8},{"x":-91.9,"y":-275.8},{"x":91.9,"y":-275.8},{"x":275.8,"y":-275.8},{"x":459.6,"y":-275.8},
{"x":-367.7,"y":-367.7},{"x":-183.8,"y":-367.7},{"x":0,"y":-367.7},{"x":183.8,"y":-367.7},{"x":367.7,"y":-367.7},
{"x":-459.6,"y":-459.6},{"x":-275.8,"y":-459.6},{"x":-91.9,"y":-459.6},{"x":91.9,"y":-459.6},{"x":275.8,"y":-459.6},{"x":459.6,"y":-459.6}
],
"labels": [
{"label":"61 x 8° FoV","x":-870,"y":816},
{"label":"130 m spacing","x":-948,"y":-958}
],
"cbar": [{"c":2},{"c":4},{"c":6},{"c":8},{"c":10},{"c":12},{"c":14},{"c":16},{"c":18},{"c":20},{"c":22}]
},
"layer": [
{
"layer": [
{
"data": {"name": "cells"},
"mark": {"type": "rect", "strokeWidth": 0.6, "binSpacing": 0, "stroke": {"expr": "scale('color', datum.v)"}},
"encoding": {
"x": {"field": "x", "type": "quantitative", "bin": {"step": 50, "extent": [-1000, 1000]}, "scale": {"domain": [-1000, 1000], "nice": false, "zero": false}, "title": "x, m",
"axis": {"values": [-1000,-950,-900,-850,-800,-750,-700,-650,-600,-550,-500,-450,-400,-350,-300,-250,-200,-150,-100,-50,0,50,100,150,200,250,300,350,400,450,500,550,600,650,700,750,800,850,900,950,1000],
"labelExpr": "datum.value % 200 === 0 ? '' + datum.value : ''",
"tickSize": {"condition": {"test": "datum.value % 200 === 0", "value": -18}, "value": -9},
"tickColor": "black", "tickWidth": 1, "domainColor": "black", "domainWidth": 1, "grid": false,
"labelFont": "Liberation Sans", "labelFontWeight": "bold", "labelFontSize": 19, "labelColor": "black", "labelPadding": 26, "labelFlush": false, "labelOverlap": false, "labelBound": false,
"titleFont": "Liberation Sans", "titleFontWeight": "bold", "titleFontSize": 26, "titleColor": "black", "titleAnchor": "end", "titleAlign": "right", "titleBaseline": "alphabetic", "titleX": 606, "titleY": 64}},
"y": {"field": "y", "type": "quantitative", "bin": {"step": 50, "extent": [-1000, 1000]}, "scale": {"domain": [-1000, 1000], "nice": false, "zero": false}, "title": "y, m",
"axis": {"values": [-1000,-950,-900,-850,-800,-750,-700,-650,-600,-550,-500,-450,-400,-350,-300,-250,-200,-150,-100,-50,0,50,100,150,200,250,300,350,400,450,500,550,600,650,700,750,800,850,900,950,1000],
"labelExpr": "datum.value % 200 === 0 ? '' + datum.value : ''",
"tickSize": {"condition": {"test": "datum.value % 200 === 0", "value": -18}, "value": -9},
"tickColor": "black", "tickWidth": 1, "domainColor": "black", "domainWidth": 1, "grid": false,
"labelFont": "Liberation Sans", "labelFontWeight": "bold", "labelFontSize": 19, "labelColor": "black", "labelPadding": 23, "labelFlush": false, "labelOverlap": false, "labelBound": false,
"titleFont": "Liberation Sans", "titleFontWeight": "bold", "titleFontSize": 26, "titleColor": "black", "titleAnchor": "end", "titleAlign": "right", "titleBaseline": "alphabetic", "titleAngle": -90, "titleX": -54, "titleY": -1}},
"color": {"field": "v", "type": "quantitative",
"scale": {"domain": [1.05,2,3,4,5,6,7,8,9,10,11,12,13,14,15,16,17,18,18.8,20,21,22.15], "range": ["#000080","#002090","#0040a0","#0058b0","#0070c0","#0088d0","#00a4e4","#00c8fc","#20d4e4","#48dcc4","#70e4a0","#98e870","#c4f040","#e0f020","#e4c820","#e8a020","#f07818","#f85010","#ff3c00","#c81c00","#a00c00","#800000"], "interpolate": "rgb"},
"legend": {"type": "gradient", "orient": "none", "legendX": 571, "legendY": 0, "direction": "vertical", "gradientLength": 606, "gradientThickness": 34, "gradientStrokeWidth": 0, "title": null, "padding": 0, "values": [2,4,6,8,10,12,14,16,18,20,22], "labelFont": "Liberation Sans", "labelFontWeight": "bold", "labelFontSize": 28, "labelColor": "black", "labelOffset": 3, "labelOverlap": false}}
}
},
{
"data": {"name": "tels"},
"mark": {"type": "point", "shape": "circle", "filled": true, "fill": "#00ffff", "stroke": "#ff00ff", "strokeWidth": 2.5, "size": 40, "opacity": 1},
"encoding": {
"x": {"field": "x", "type": "quantitative", "title": "x, m"},
"y": {"field": "y", "type": "quantitative", "title": "y, m"}
}
},
{
"data": {"name": "labels"},
"mark": {"type": "text", "font": "Liberation Sans", "fontSize": 60, "align": "left", "baseline": "alphabetic", "color": "black"},
"encoding": {
"x": {"field": "x", "type": "quantitative", "title": "x, m"},
"y": {"field": "y", "type": "quantitative", "title": "y, m"},
"text": {"field": "label"}
}
}
]
},
{
"data": {"name": "cbar"},
"mark": {"type": "rule", "color": "black", "strokeWidth": 1},
"encoding": {
"x": {"datum": 1000, "type": "quantitative", "title": "x, m"},
"x2": {"datum": 942},
"y": {"field": "c", "type": "quantitative", "scale": {"domain": [1.05, 22.15], "nice": false, "zero": false},
"axis": {"orient": "right", "values": [2,4,6,8,10,12,14,16,18,20,22], "tickSize": -17, "tickColor": "black", "tickWidth": 1, "labels": false, "domain": false, "grid": false, "title": null, "zindex": 2}}
}
}
],
"resolve": {"scale": {"y": "independent"}}
}
